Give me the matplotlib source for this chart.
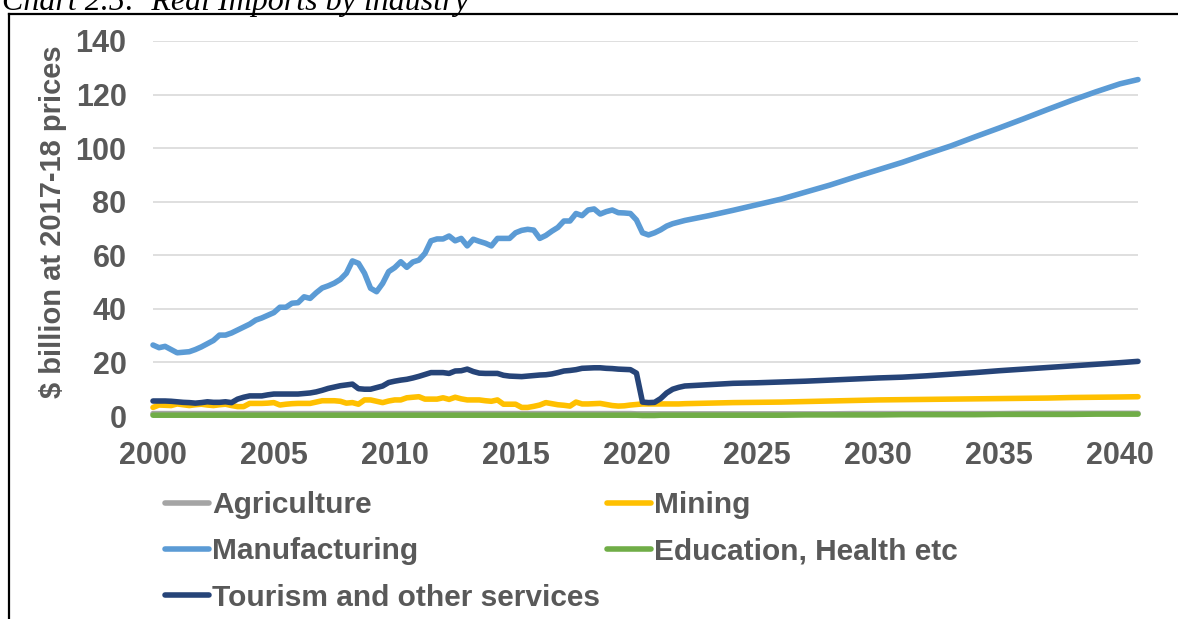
import numpy as np
import matplotlib
matplotlib.use("Agg")
from matplotlib import pyplot as plt
from matplotlib.lines import Line2D

# Quarterly history 2000Q1 - 2021Q4, then annual projections to 2040Q4
hist_quarters = np.arange(2000, 2022, 0.25)
proj_years = [2022, 2023, 2024, 2025, 2026, 2027, 2028, 2029, 2030, 2031,
              2032, 2033, 2034, 2035, 2036, 2037, 2038, 2039, 2040, 2040.75]

agriculture_hist = [
    0.9, 0.9, 0.9, 0.9,  0.9, 0.9, 0.9, 0.9,  0.9, 0.9, 0.9, 0.9,
    0.9, 0.9, 0.9, 0.9,  0.9, 0.9, 0.9, 0.9,  0.9, 0.9, 0.9, 0.9,
    0.9, 0.9, 0.9, 0.9,  0.9, 0.9, 0.9, 0.9,  0.9, 0.9, 0.9, 0.9,
    0.9, 0.9, 0.9, 0.9,  0.9, 0.9, 0.9, 0.9,  0.9, 0.9, 0.9, 0.9,
    0.9, 0.9, 0.9, 0.9,  0.9, 0.9, 0.9, 0.9,  0.9, 0.9, 0.9, 0.9,
    0.9, 0.9, 0.9, 0.9,  0.9, 0.9, 0.9, 0.9,  0.9, 0.9, 0.9, 0.9,
    0.9, 0.9, 0.9, 0.9,  0.9, 0.9, 0.9, 0.9,  0.8, 0.8, 0.8, 0.8,
    0.8, 0.8, 0.8, 0.8,
]
agriculture_proj = [0.8, 0.8, 0.8, 0.8, 0.8, 0.8, 0.8, 0.9, 0.9, 0.9,
                    0.9, 0.9, 0.9, 0.9, 1.0, 1.0, 1.0, 1.0, 1.0, 1.0]

mining_hist = [
    3.2, 4.1, 4.0, 3.9,  4.5, 4.2, 3.9, 4.2,  4.4, 4.1, 3.9, 4.2,
    4.4, 3.9, 3.5, 3.5,  4.7, 4.7, 4.7, 4.8,  5.0, 4.1, 4.4, 4.6,
    4.7, 4.7, 4.7, 5.2,  5.7, 5.7, 5.7, 5.5,  4.8, 5.0, 4.4, 6.0,
    6.0, 5.5, 5.0, 5.6,  6.0, 6.0, 6.8, 7.0,  7.2, 6.3, 6.3, 6.3,
    6.8, 6.2, 7.0, 6.4,  6.0, 6.0, 6.0, 5.7,  5.5, 6.0, 4.4, 4.4,
    4.4, 3.2, 3.2, 3.6,  4.1, 5.0, 4.6, 4.2,  4.0, 3.7, 5.2, 4.5,
    4.5, 4.6, 4.7, 4.3,  3.9, 3.7, 3.8, 4.1,  4.3, 4.5, 4.5, 4.5,
    4.5, 4.5, 4.5, 4.5,
]
mining_proj = [4.6, 4.8, 5.0, 5.1, 5.2, 5.4, 5.6, 5.8, 6.0, 6.1,
               6.2, 6.3, 6.4, 6.5, 6.6, 6.7, 6.9, 7.0, 7.1, 7.2]

manufacturing_hist = [
    26.5, 25.5, 26.0, 24.8,  23.6, 23.8, 24.0, 24.8,  25.8, 27.0, 28.2, 30.2,
    30.2, 31.0, 32.1, 33.2,  34.3, 35.8, 36.6, 37.6,  38.6, 40.6, 40.6, 42.1,
    42.3, 44.5, 43.9, 46.0,  47.8, 48.6, 49.6, 51.0,  53.3, 57.9, 57.0, 53.3,
    47.7, 46.4, 49.5, 53.9,  55.4, 57.6, 55.5, 57.5,  58.2, 60.7, 65.4, 66.1,
    66.1, 67.2, 65.4, 66.3,  63.5, 66.0, 65.2, 64.5,  63.5, 66.3, 66.3, 66.3,
    68.4, 69.3, 69.7, 69.4,  66.3, 67.4, 69.0, 70.4,  72.8, 72.8, 75.6, 74.8,
    76.9, 77.3, 75.4, 76.3,  76.9, 75.9, 75.8, 75.6,  73.2, 68.4, 67.6, 68.4,
    69.5, 70.9, 71.8, 72.4,
]
manufacturing_proj = [73.0, 74.8, 76.8, 78.9, 81.0, 83.6, 86.2, 89.1, 91.9, 94.7,
                      97.8, 100.8, 104.2, 107.5, 110.9, 114.4, 117.8, 121.0, 124.0, 125.6]

education_hist = [
    0.3, 0.3, 0.3, 0.3,  0.3, 0.3, 0.3, 0.3,  0.3, 0.3, 0.3, 0.3,
    0.3, 0.3, 0.3, 0.3,  0.3, 0.3, 0.3, 0.3,  0.3, 0.3, 0.3, 0.3,
    0.3, 0.3, 0.3, 0.3,  0.3, 0.3, 0.3, 0.3,  0.3, 0.3, 0.3, 0.3,
    0.3, 0.3, 0.3, 0.3,  0.3, 0.3, 0.3, 0.3,  0.3, 0.3, 0.3, 0.3,
    0.3, 0.3, 0.3, 0.3,  0.3, 0.3, 0.3, 0.3,  0.3, 0.3, 0.3, 0.3,
    0.3, 0.3, 0.3, 0.3,  0.3, 0.3, 0.3, 0.3,  0.3, 0.3, 0.3, 0.3,
    0.3, 0.3, 0.3, 0.3,  0.3, 0.3, 0.3, 0.3,  0.3, 0.2, 0.2, 0.2,
    0.3, 0.3, 0.3, 0.3,
]
education_proj = [0.3, 0.3, 0.3, 0.3, 0.3, 0.4, 0.4, 0.4, 0.4, 0.5,
                  0.5, 0.5, 0.5, 0.6, 0.6, 0.6, 0.6, 0.7, 0.7, 0.7]

tourism_hist = [
    5.6, 5.6, 5.6, 5.5,  5.3, 5.1, 5.0, 4.8,  5.0, 5.3, 5.1, 5.1,
    5.3, 5.0, 6.3, 7.0,  7.5, 7.5, 7.5, 7.9,  8.2, 8.2, 8.2, 8.2,
    8.2, 8.4, 8.6, 9.0,  9.6, 10.3, 10.8, 11.3,  11.6, 11.9, 10.2, 10.0,
    10.0, 10.6, 11.2, 12.5,  13.0, 13.4, 13.7, 14.2,  14.8, 15.5, 16.2, 16.2,
    16.2, 15.9, 16.8, 16.9,  17.5, 16.6, 16.0, 15.9,  15.9, 15.9, 15.2, 14.9,
    14.8, 14.7, 14.9, 15.1,  15.3, 15.4, 15.7, 16.2,  16.8, 17.0, 17.3, 17.8,
    17.9, 18.0, 18.0, 17.8,  17.7, 17.5, 17.4, 17.3,  16.0, 5.2, 5.0, 5.1,
    6.5, 8.6, 10.0, 10.7,
]
tourism_proj = [11.2, 11.7, 12.2, 12.4, 12.7, 13.0, 13.4, 13.8, 14.2, 14.5,
                15.0, 15.6, 16.2, 16.9, 17.5, 18.1, 18.7, 19.3, 19.9, 20.4]

x_ticks = [2000, 2005, 2010, 2015, 2020, 2025, 2030, 2035, 2040]
y_ticks = [0, 20, 40, 60, 80, 100, 120, 140]

plt.rcParams['font.family'] = ['Liberation Sans', 'DejaVu Sans']
text_grey = '#595959'

period = np.concatenate([hist_quarters, proj_years])

fig = plt.figure(figsize=(11.78, 6.19), dpi=100)
ax = fig.add_axes([153 / 1178, 1 - 416 / 619, 985 / 1178, 375 / 619])

series = [
    ('Agriculture', agriculture_hist + agriculture_proj, '#A5A5A5'),
    ('Mining', mining_hist + mining_proj, '#FFC000'),
    ('Manufacturing', manufacturing_hist + manufacturing_proj, '#5B9BD5'),
    ('Education, Health etc', education_hist + education_proj, '#70AD47'),
    ('Tourism and other services', tourism_hist + tourism_proj, '#264478'),
]
lines = {}
for name, vals, col in series:
    ln, = ax.plot(period, vals, color=col, lw=4.0, solid_capstyle='round',
                  solid_joinstyle='round', label=name, clip_on=False)
    lines[name] = ln

ax.set_xlim(2000, 2040.75)
ax.set_ylim(0, 140)
ax.set_xticks(x_ticks)
ax.set_yticks(y_ticks)
ax.yaxis.grid(True, color='#D9D9D9', lw=1.2)
ax.set_axisbelow(True)
for s in ax.spines.values():
    s.set_visible(False)
ax.tick_params(axis='both', length=0, labelsize=22, labelcolor=text_grey)
ax.tick_params(axis='y', pad=19)
ax.tick_params(axis='x', pad=18)
for lab in ax.get_xticklabels() + ax.get_yticklabels():
    lab.set_fontweight('bold')

fig.text(53 / 1178, 1 - 222 / 619, '$ billion at 2017-18 prices', rotation=90,
         ha='center', va='center', fontsize=21, fontweight='bold', color=text_grey)

# legend in two blocks so each column starts where it should
legend_size = 21.5
legend_px = legend_size * 100 / 72
legend_kw = dict(frameon=False, loc='upper left', borderpad=0, borderaxespad=0,
                 handlelength=44 / legend_px, handletextpad=3 / legend_px,
                 labelspacing=46.5 / legend_px - 0.94,
                 prop={'weight': 'bold', 'size': legend_size})
legend_top = 1 - (505 - 0.47 * legend_px) / 619
for col_names, x0 in [(['Agriculture', 'Manufacturing', 'Tourism and other services'], 165),
                      (['Mining', 'Education, Health etc'], 607)]:
    leg = fig.legend([lines[n] for n in col_names], col_names,
                     bbox_to_anchor=(x0 / 1178, legend_top), **legend_kw)
    for t in leg.get_texts():
        t.set_color(text_grey)

# chart caption, partly above the top edge, and the frame around the chart
fig.text(2 / 1178, 1 - 10 / 619, 'Chart 2.5:  Real Imports by industry', ha='left',
         va='baseline', fontsize=23, style='italic',
         family=['Liberation Serif', 'DejaVu Serif'], color='black')
fig.add_artist(Line2D([9 / 1178, 9 / 1178], [1 - 14 / 619, -0.05], color='black', lw=1.6,
                      transform=fig.transFigure))
fig.add_artist(Line2D([9 / 1178, 1.05], [1 - 14 / 619, 1 - 14 / 619], color='black', lw=1.6,
                      transform=fig.transFigure))

fig.savefig('out.png', dpi=100)
